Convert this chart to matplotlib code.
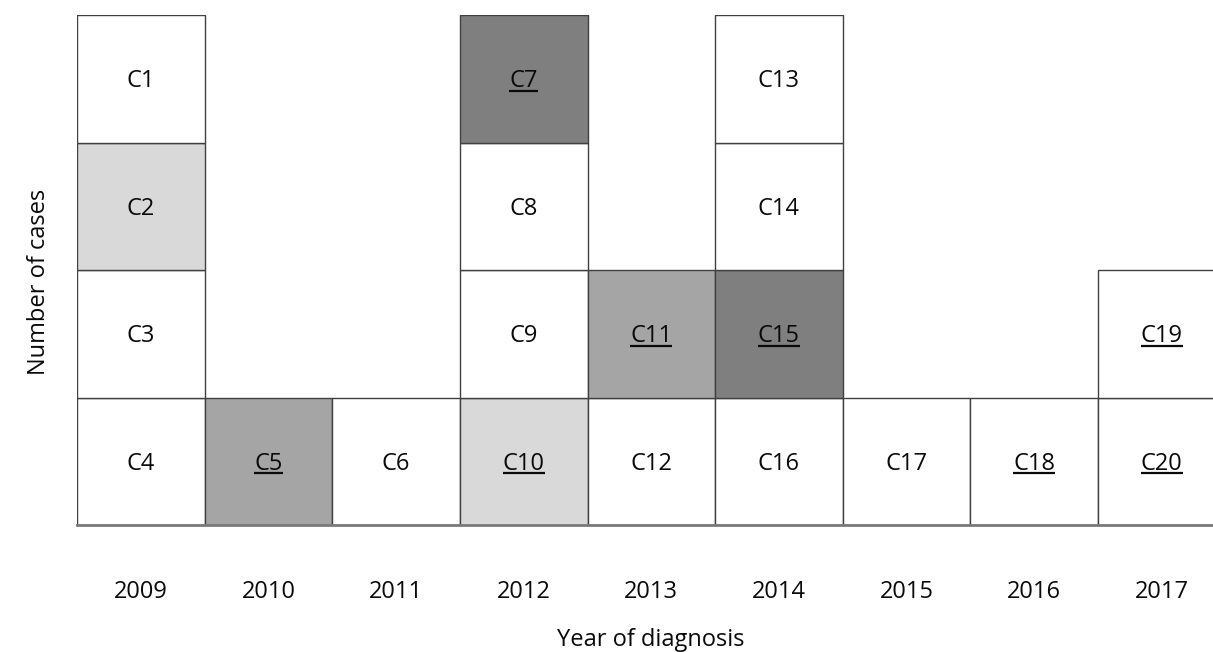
import matplotlib
matplotlib.use("Agg")
import matplotlib.pyplot as plt

# ---- data ----
years = ['2009', '2010', '2011', '2012', '2013', '2014', '2015', '2016', '2017']
# cases stacked from bottom to top within each year
cases_2009 = ['C4', 'C3', 'C2', 'C1']
cases_2010 = ['C5']
cases_2011 = ['C6']
cases_2012 = ['C10', 'C9', 'C8', 'C7']
cases_2013 = ['C12', 'C11']
cases_2014 = ['C16', 'C15', 'C14', 'C13']
cases_2015 = ['C17']
cases_2016 = ['C18']
cases_2017 = ['C20', 'C19']
cases_by_year = [cases_2009, cases_2010, cases_2011, cases_2012, cases_2013,
                 cases_2014, cases_2015, cases_2016, cases_2017]

light_cases = ['C2', 'C10']
medium_cases = ['C5', 'C11']
dark_cases = ['C7', 'C15']
underlined_cases = ['C5', 'C7', 'C10', 'C11', 'C15', 'C18', 'C19', 'C20']

# ---- style ----
FONT = 'Open Sans'
FS = 17
TXT = '#0a0a0a'
plt.rcParams['font.family'] = [FONT, 'DejaVu Sans']
colors = {'light': '#d9d9d9', 'medium': '#a5a5a5', 'dark': '#7f7f7f', 'none': '#ffffff'}

def shade(c):
    if c in light_cases:
        return colors['light']
    if c in medium_cases:
        return colors['medium']
    if c in dark_cases:
        return colors['dark']
    return colors['none']

W, H = 1213, 652
fig = plt.figure(figsize=(W / 100, H / 100), dpi=100)
col_w = (1098 - 77) / 8.0
ax = fig.add_axes([77 / W, (H - 525) / H, 1 - 77 / W, 510 / H])
ax.set_xlim(-0.5, -0.5 + (W - 77) / col_w)
ax.set_ylim(0, 4)

texts = []
for i, cases in enumerate(cases_by_year):
    for level, c in enumerate(cases):
        ax.bar(i, 1, bottom=level, width=1.0, color=shade(c),
               edgecolor='#404040', linewidth=1.0, zorder=2)
        t = ax.text(i, level + 0.5 - 0.068, c, ha='center', va='baseline',
                    fontsize=FS, color=TXT, zorder=3)
        if c in underlined_cases:
            texts.append((t, level + 0.5 - 0.068 - 3.5 / 127.5))

for s in ['top', 'right', 'left']:
    ax.spines[s].set_visible(False)
ax.spines['bottom'].set_color('#7a7a7a')
ax.spines['bottom'].set_linewidth(2.0)
ax.spines['bottom'].set_zorder(4)
ax.set_yticks([])
ax.set_xticks(range(len(years)))
ax.set_xticklabels(years, fontsize=FS, color=TXT)
ax.tick_params(axis='x', length=0, pad=39.5)

fig.text(651 / W, 6 / H, 'Year of diagnosis', ha='center', va='baseline',
         fontsize=FS, color=TXT)
fig.text(39 / W, (H - 282) / H, 'Number of cases', ha='center', va='center',
         rotation=90, fontsize=FS, color=TXT)

# underlines
fig.canvas.draw()
r = fig.canvas.get_renderer()
inv = ax.transData.inverted()
for t, y in texts:
    bb = t.get_window_extent(r)
    x0 = inv.transform((bb.x0, bb.y0))[0]
    x1 = inv.transform((bb.x1, bb.y0))[0]
    ax.plot([x0, x1], [y, y], color=TXT, lw=1.6, zorder=3,
            solid_capstyle='butt')

fig.savefig('out.png', dpi=100)
